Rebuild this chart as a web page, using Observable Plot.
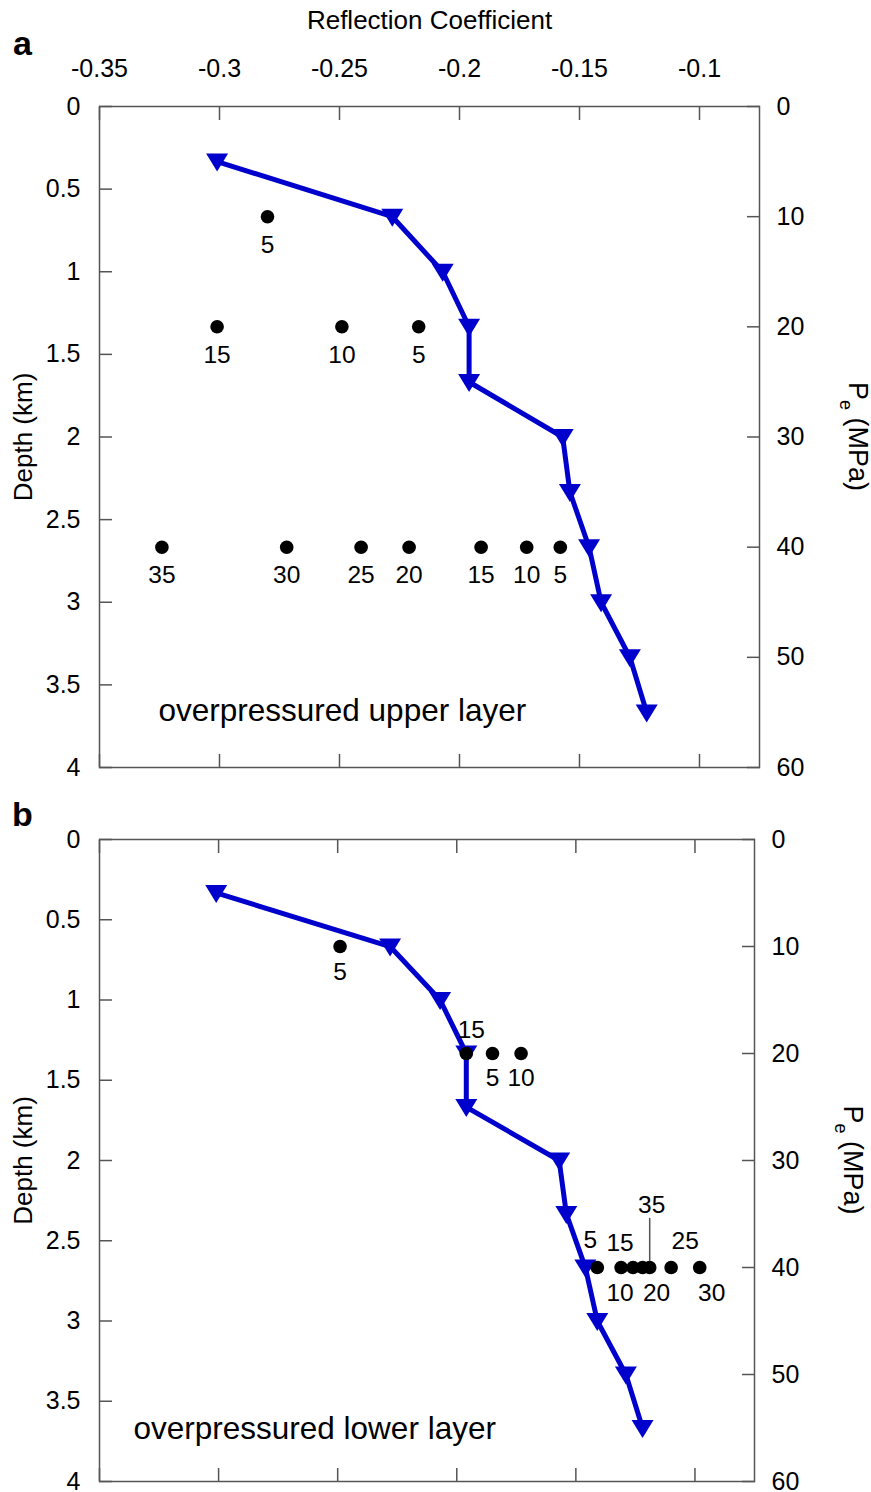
<!DOCTYPE html>
<html><head><meta charset="utf-8">
<script src="https://cdn.jsdelivr.net/npm/d3@7"></script>
<script src="https://cdn.jsdelivr.net/npm/@observablehq/plot@0.6"></script>
<style>
body{margin:0;background:#fff;}
#chart svg{display:block;}
</style>
</head><body><div id="chart"></div>
<script>
// ---------- data ----------
// blue curve (same in both panels): effective pressure, depth, reflection coefficient
const curvePe    = [5, 10, 15, 20, 25, 30, 35, 40, 45, 50, 55];
const curveDepth = [0.333, 0.667, 1.0, 1.333, 1.667, 2.0, 2.333, 2.667, 3.0, 3.333, 3.667];
const curveRC    = [-0.301, -0.228, -0.207, -0.196, -0.196, -0.157, -0.154, -0.146, -0.141, -0.129, -0.122];

// panel a points
const aDepth = [0.667, 1.333, 1.333, 1.333, 2.667, 2.667, 2.667, 2.667, 2.667, 2.667, 2.667];
const aRC    = [-0.280, -0.301, -0.249, -0.217, -0.324, -0.272, -0.241, -0.221, -0.191, -0.172, -0.158];
const aLabel = ["5", "15", "10", "5", "35", "30", "25", "20", "15", "10", "5"];

// panel b points
const bDepth = [0.667, 1.333, 1.333, 1.333, 2.667, 2.667, 2.667, 2.667, 2.667, 2.667, 2.667];
const bRC    = [-0.249, -0.196, -0.185, -0.173, -0.141, -0.131, -0.126, -0.122, -0.110, -0.098, -0.119];
const bLabel = ["5", "15", "5", "10", "5", "10", "15", "20", "25", "30", "35"];

// tick values
const xTicks  = [-0.35, -0.3, -0.25, -0.2, -0.15, -0.1];
const depthTicks = [0, 0.5, 1, 1.5, 2, 2.5, 3, 3.5, 4];
const peTicks = [0, 10, 20, 30, 40, 50, 60];
const peToDepth = 1 / 15; // 60 MPa <-> 4 km

// ---------- styles ----------
const FONT = "'Liberation Sans', Arial, sans-serif";
const BLUE = "#0000cd";
const GRAY = "#555";
const aLabelDx = aLabel.map(() => 0);
const aLabelDy = aLabel.map(() => 28);
const bLabelDx = [0, 5, 0, 0, -7, -1, -13, 14, 14, 12, 2];
const bLabelDy = [26, -23, 25, 25, -27, 26, -24, 26, -26, 26, -62];

const curve = curvePe.map((p, i) => ({pe: p, depth: curveDepth[i], rc: curveRC[i]}));
const ptsA = aRC.map((r, i) => ({rc: r, depth: aDepth[i], label: aLabel[i]}));
const ptsB = bRC.map((r, i) => ({rc: r, depth: bDepth[i], label: bLabel[i]}));

const triDown = {
  draw(ctx, size) {
    const r = Math.sqrt(size / Math.PI);
    ctx.moveTo(-1.57 * r, -1.14 * r);
    ctx.lineTo(1.57 * r, -1.14 * r);
    ctx.lineTo(0, 1.43 * r);
    ctx.closePath();
  }
};
const lineShape = {draw(ctx, l) { ctx.moveTo(0, 0); ctx.lineTo(0, -l); }};

function panel({height, marginTop, marginBottom, marginLeft, marginRight, pts, dxs, dys, letter, letterDy, note, noteDx, noteDy, topLabels, leader}) {
  const marks = [
    Plot.frame({stroke: GRAY, strokeWidth: 1.5}),
    Plot.axisX(xTicks, {anchor: "top", tickSize: -13, tickPadding: 43, strokeWidth: 1.5, stroke: GRAY,
      fill: topLabels ? "black" : "none", tickFormat: d => String(d), fontSize: 25, label: null}),
    Plot.axisX(xTicks, {anchor: "bottom", tickSize: -13, strokeWidth: 1.5, stroke: GRAY, fill: "none", label: null}),
    Plot.axisY(depthTicks, {anchor: "left", tickSize: -13, tickPadding: 32, strokeWidth: 1.5, stroke: GRAY,
      tickFormat: d => String(d), fontSize: 25, label: null}),
    Plot.axisY(peTicks.map(p => p * peToDepth), {anchor: "right", tickSize: -13, tickPadding: 30, strokeWidth: 1.5, stroke: GRAY,
      tickFormat: d => String(Math.round(d / peToDepth)), fontSize: 25, label: null}),
    Plot.text(["Depth (km)"], {text: d => d, frameAnchor: "left", dx: -76, rotate: -90, textAnchor: "middle", lineAnchor: "middle", fontSize: 26}),
    Plot.text([letter], {text: d => d, frameAnchor: "top-left", dx: -77, dy: letterDy, textAnchor: "middle", lineAnchor: "middle", fontSize: 34, fontWeight: "bold"}),
    Plot.line(curve, {x: "rc", y: "depth", stroke: BLUE, strokeWidth: 5}),
    Plot.dot(curve, {x: "rc", y: "depth", symbol: triDown, r: 7, fill: BLUE, stroke: "none"}),
    Plot.dot(pts, {x: "rc", y: "depth", r: 6.8, fill: "black", stroke: "none"}),
    ...pts.map((p, i) => Plot.text([p], {x: "rc", y: "depth", text: "label", dx: dxs[i], dy: dys[i], fontSize: 24.5})),
    Plot.text([note], {text: d => d, frameAnchor: "bottom-left", dx: noteDx, dy: noteDy, textAnchor: "start", lineAnchor: "middle", fontSize: 31.5})
  ];
  if (topLabels) marks.push(Plot.text(["Reflection Coefficient"], {text: d => d, frameAnchor: "top", dy: -86, lineAnchor: "middle", fontSize: 26}));
  if (leader) marks.push(Plot.vector(pts.filter(p => p.label === leader), {x: "rc", y: "depth", length: 42, rotate: 0, anchor: "start", shape: lineShape, dy: -7, stroke: GRAY, strokeWidth: 1.5}));
  const svg = Plot.plot({
    width: 871, height, marginTop, marginBottom, marginLeft, marginRight,
    style: {fontFamily: FONT, fontSize: "25px", background: "white", color: "black", overflow: "visible"},
    x: {domain: [-0.35, -0.075], axis: null},
    y: {domain: [0, 4], reverse: true, axis: null},
    marks
  });
  // right-axis title with subscript
  const cx = 871 - marginRight + 99;
  const cy = marginTop + (height - marginTop - marginBottom) / 2;
  const t = d3.select(svg).append("text")
    .attr("transform", `translate(${cx - 9},${cy}) rotate(90)`)
    .attr("text-anchor", "middle")
    .attr("font-family", FONT).attr("font-size", 27).attr("fill", "black");
  t.append("tspan").text("P");
  t.append("tspan").attr("dy", 9).attr("font-size", 18).text("e");
  t.append("tspan").attr("dy", -9).text(" (MPa)");
  return svg;
}

const chart = document.getElementById("chart");
chart.appendChild(panel({height: 790, marginTop: 106, marginBottom: 23, marginLeft: 99, marginRight: 112,
  pts: ptsA, dxs: aLabelDx, dys: aLabelDy, letter: "a", letterDy: -62, note: "overpressured upper layer", noteDx: 59, noteDy: -57, topLabels: true}));
chart.appendChild(panel({height: 702, marginTop: 49, marginBottom: 11, marginLeft: 99, marginRight: 117,
  pts: ptsB, dxs: bLabelDx, dys: bLabelDy, letter: "b", letterDy: -24, note: "overpressured lower layer", noteDx: 34, noteDy: -53, topLabels: false, leader: "35"}));
</script>
</body></html>
